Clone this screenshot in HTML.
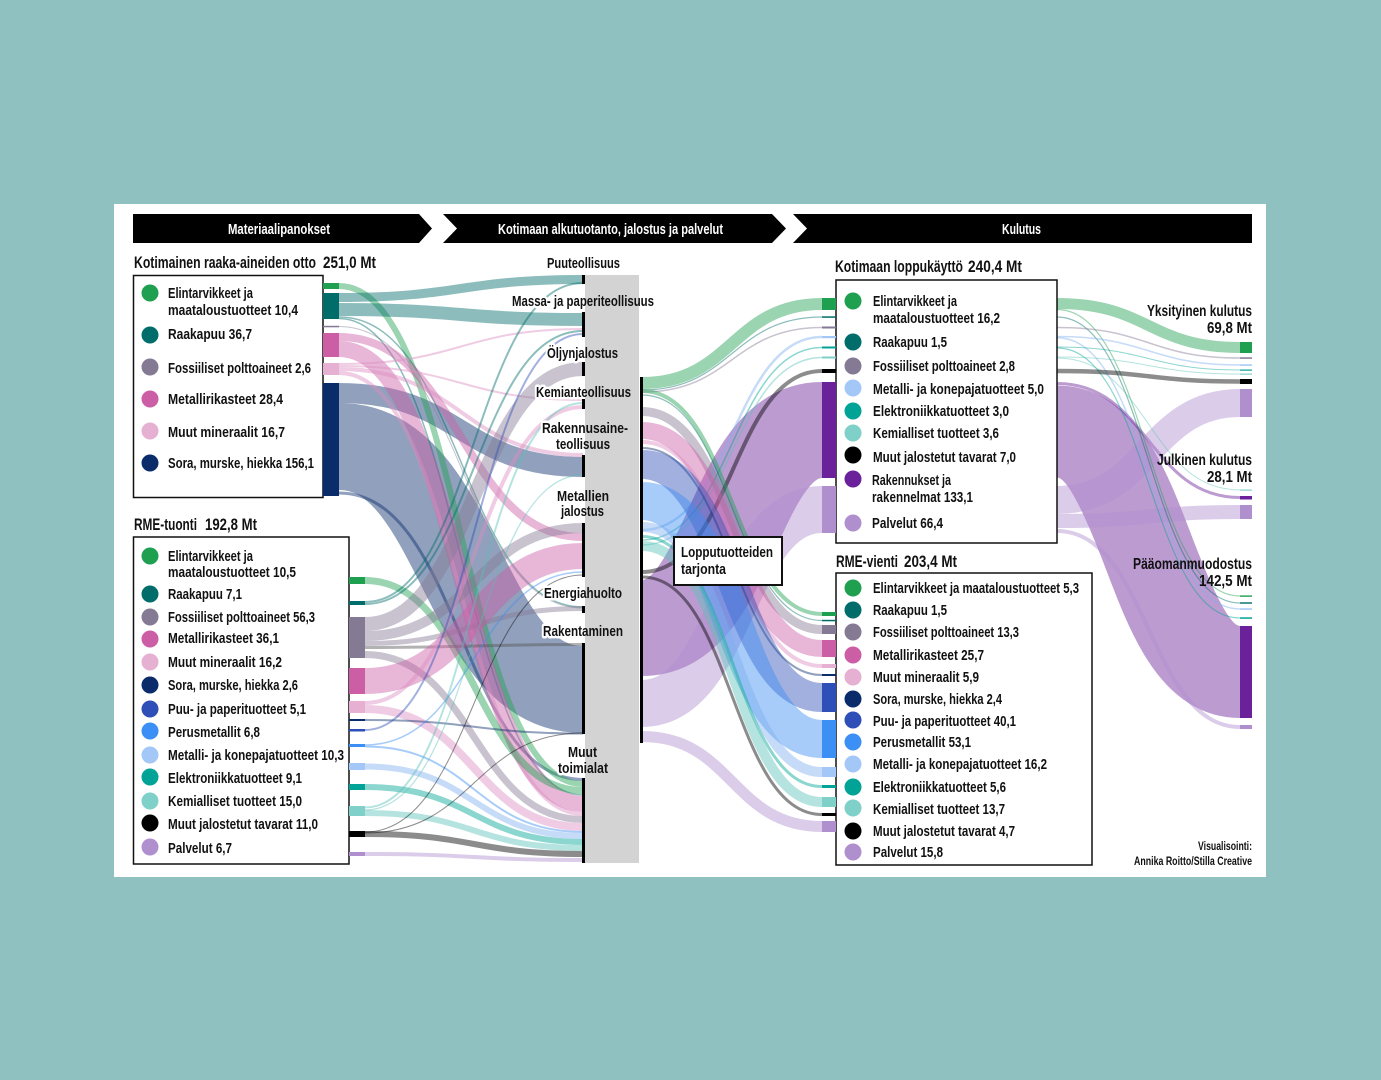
<!DOCTYPE html>
<html><head><meta charset="utf-8"><style>
html,body{margin:0;padding:0;background:#8fc1c1;}
svg{display:block;}
text{font-family:"Liberation Sans",sans-serif;font-weight:bold;fill:#111;}
</style></head><body>
<svg width="1381" height="1080" viewBox="0 0 1381 1080" xmlns="http://www.w3.org/2000/svg">
<rect width="1381" height="1080" fill="#8fc1c1"/>
<rect x="114" y="204" width="1152" height="673" fill="#fff"/>

<!-- header bars -->
<path d="M133 214 L419 214 L432 228.5 L419 243 L133 243 Z" fill="#000"/>
<path d="M443 214 L772 214 L786 228.5 L772 243 L443 243 L457 228.5 Z" fill="#000"/>
<path d="M793 214 L1252 214 L1252 243 L793 243 L807 228.5 Z" fill="#000"/>
<g font-size="15">
<text x="279" y="234" text-anchor="middle" textLength="102" lengthAdjust="spacingAndGlyphs" style="fill:#fff">Materiaalipanokset</text>
<text x="610.5" y="234" text-anchor="middle" textLength="225" lengthAdjust="spacingAndGlyphs" style="fill:#fff">Kotimaan alkutuotanto, jalostus ja palvelut</text>
<text x="1021.5" y="234" text-anchor="middle" textLength="39" lengthAdjust="spacingAndGlyphs" style="fill:#fff">Kulutus</text>
</g>

<!-- FLOWS -->
<g fill="none" stroke-opacity="0.45">
<path d="M339 446.5 C461 446.5 461 689.5 583 689.5" stroke="#0a2c6a" stroke-width="87"/>
<path d="M339 393 C461 393 461 467 583 467" stroke="#0a2c6a" stroke-width="20"/>
<path d="M339 493 C461 493 461 779.5 583 779.5" stroke="#0a2c6a" stroke-width="3"/>
<path d="M339 286 C461 286 461 784 583 784" stroke="#1fa050" stroke-width="6"/>
<path d="M339 297.5 C461 297.5 461 279.5 583 279.5" stroke="#006d6a" stroke-width="9"/>
<path d="M339 309.5 C461 309.5 461 319.5 583 319.5" stroke="#006d6a" stroke-width="13"/>
<path d="M339 317 C461 317 461 607 583 607" stroke="#006d6a" stroke-width="1.5"/>
<path d="M339 318.5 C461 318.5 461 795 583 795" stroke="#006d6a" stroke-width="1.5"/>
<path d="M339 326.5 C461 326.5 461 608 583 608" stroke="#857a94" stroke-width="1"/>
<path d="M339 337 C461 337 461 537 583 537" stroke="#cc5ea6" stroke-width="8"/>
<path d="M339 349 C461 349 461 804 583 804" stroke="#cc5ea6" stroke-width="16"/>
<path d="M339 364 C461 364 461 329 583 329" stroke="#dc8fc0" stroke-width="2"/>
<path d="M339 366 C461 366 461 400 583 400" stroke="#dc8fc0" stroke-width="2"/>
<path d="M339 369 C461 369 461 455 583 455" stroke="#dc8fc0" stroke-width="4"/>
<path d="M339 373 C461 373 461 814 583 814" stroke="#dc8fc0" stroke-width="4"/>
<path d="M365 580.5 C474 580.5 474 790.5 583 790.5" stroke="#1fa050" stroke-width="7"/>
<path d="M365 602 C474 602 474 283 583 283" stroke="#006d6a" stroke-width="2"/>
<path d="M365 604 C474 604 474 331 583 331" stroke="#006d6a" stroke-width="2"/>
<path d="M365 624 C474 624 474 369 583 369" stroke="#857a94" stroke-width="14"/>
<path d="M365 636 C474 636 474 528 583 528" stroke="#857a94" stroke-width="10"/>
<path d="M365 643.5 C474 643.5 474 608.5 583 608.5" stroke="#857a94" stroke-width="5"/>
<path d="M365 647.5 C474 647.5 474 644.5 583 644.5" stroke="#555" stroke-width="3"/>
<path d="M365 654.5 C474 654.5 474 819.5 583 819.5" stroke="#857a94" stroke-width="7"/>
<path d="M365 681 C474 681 474 556 583 556" stroke="#cc5ea6" stroke-width="26"/>
<path d="M365 703 C474 703 474 407 583 407" stroke="#dc8fc0" stroke-width="4"/>
<path d="M365 709 C474 709 474 827 583 827" stroke="#dc8fc0" stroke-width="8"/>
<path d="M365 720 C474 720 474 733.5 583 733.5" stroke="#0a2c6a" stroke-width="2"/>
<path d="M365 730 C474 730 474 334 583 334" stroke="#2f4fb8" stroke-width="2"/>
<path d="M365 745 C474 745 474 572 583 572" stroke="#3b8ff5" stroke-width="1.5"/>
<path d="M365 746.5 C474 746.5 474 832 583 832" stroke="#3b8ff5" stroke-width="2"/>
<path d="M365 766.5 C474 766.5 474 836 583 836" stroke="#7fb0f0" stroke-width="6"/>
<path d="M365 787 C474 787 474 842 583 842" stroke="#00a396" stroke-width="6"/>
<path d="M365 807.5 C474 807.5 474 403 583 403" stroke="#5cc2b8" stroke-width="2"/>
<path d="M365 810 C474 810 474 475 583 475" stroke="#5cc2b8" stroke-width="1.2"/>
<path d="M365 813 C474 813 474 848 583 848" stroke="#5cc2b8" stroke-width="6"/>
<path d="M365 834 C474 834 474 854 583 854" stroke="#000" stroke-width="6"/>
<path d="M365 832 C474 832 474 575 583 575" stroke="#000" stroke-width="1"/>
<path d="M365 833 C474 833 474 733 583 733" stroke="#000" stroke-width="1"/>
<path d="M365 854 C474 854 474 860 583 860" stroke="#b08fcf" stroke-width="4"/>

<path d="M642 628 C732 628 732 430 822 430" stroke="#6a2199" stroke-width="96"/>
<path d="M642 703.5 C732 703.5 732 509.5 822 509.5" stroke="#b08fcf" stroke-width="47"/>
<path d="M642 736.5 C732 736.5 732 826.5 822 826.5" stroke="#b08fcf" stroke-width="11"/>
<path d="M642 383 C732 383 732 304 822 304" stroke="#1fa050" stroke-width="12"/>
<path d="M642 390 C732 390 732 317 822 317" stroke="#006d6a" stroke-width="1.2"/>
<path d="M642 392 C732 392 732 327.5 822 327.5" stroke="#857a94" stroke-width="1.5"/>
<path d="M642 530 C732 530 732 337 822 337" stroke="#7fb0f0" stroke-width="2.5"/>
<path d="M642 540 C732 540 732 347.5 822 347.5" stroke="#00a396" stroke-width="1.5"/>
<path d="M642 545 C732 545 732 357.5 822 357.5" stroke="#5cc2b8" stroke-width="1.5"/>
<path d="M642 572 C732 572 732 371 822 371" stroke="#000" stroke-width="4"/>
<path d="M642 391 C732 391 732 614 822 614" stroke="#1fa050" stroke-width="4"/>
<path d="M642 395 C732 395 732 620.5 822 620.5" stroke="#006d6a" stroke-width="1.2"/>
<path d="M642 411.5 C732 411.5 732 629.5 822 629.5" stroke="#857a94" stroke-width="9"/>
<path d="M642 430.5 C732 430.5 732 648.5 822 648.5" stroke="#cc5ea6" stroke-width="17"/>
<path d="M642 442 C732 442 732 666 822 666" stroke="#dc8fc0" stroke-width="4"/>
<path d="M642 448 C732 448 732 675 822 675" stroke="#0a2c6a" stroke-width="2"/>
<path d="M642 464.5 C732 464.5 732 697.5 822 697.5" stroke="#2f4fb8" stroke-width="29"/>
<path d="M642 501 C732 501 732 739 822 739" stroke="#3b8ff5" stroke-width="38"/>
<path d="M642 527 C732 527 732 772 822 772" stroke="#7fb0f0" stroke-width="10"/>
<path d="M642 536.5 C732 536.5 732 786.5 822 786.5" stroke="#00a396" stroke-width="3"/>
<path d="M642 546 C732 546 732 802 822 802" stroke="#5cc2b8" stroke-width="10"/>
<path d="M642 577 C732 577 732 814.5 822 814.5" stroke="#000" stroke-width="3"/>

<path d="M1057 431.5 C1148.5 431.5 1148.5 672 1240 672" stroke="#6a2199" stroke-width="92"/>
<path d="M1057 383.5 C1148.5 383.5 1148.5 497.5 1240 497.5" stroke="#6a2199" stroke-width="3"/>
<path d="M1057 500 C1148.5 500 1148.5 403 1240 403" stroke="#b08fcf" stroke-width="28"/>
<path d="M1057 521 C1148.5 521 1148.5 512 1240 512" stroke="#b08fcf" stroke-width="14"/>
<path d="M1057 531 C1148.5 531 1148.5 727 1240 727" stroke="#b08fcf" stroke-width="4"/>
<path d="M1057 303.5 C1148.5 303.5 1148.5 347.5 1240 347.5" stroke="#1fa050" stroke-width="11"/>
<path d="M1057 309.5 C1148.5 309.5 1148.5 596 1240 596" stroke="#1fa050" stroke-width="1.2"/>
<path d="M1057 317 C1148.5 317 1148.5 603 1240 603" stroke="#006d6a" stroke-width="1.2"/>
<path d="M1057 327.5 C1148.5 327.5 1148.5 358 1240 358" stroke="#857a94" stroke-width="1.5"/>
<path d="M1057 336.5 C1148.5 336.5 1148.5 365 1240 365" stroke="#7fb0f0" stroke-width="1.5"/>
<path d="M1057 337.8 C1148.5 337.8 1148.5 609 1240 609" stroke="#7fb0f0" stroke-width="1.5"/>
<path d="M1057 347 C1148.5 347 1148.5 370 1240 370" stroke="#00a396" stroke-width="1"/>
<path d="M1057 348 C1148.5 348 1148.5 618 1240 618" stroke="#00a396" stroke-width="1.2"/>
<path d="M1057 357 C1148.5 357 1148.5 374 1240 374" stroke="#5cc2b8" stroke-width="1"/>
<path d="M1057 358 C1148.5 358 1148.5 490 1240 490" stroke="#5cc2b8" stroke-width="1"/>
<path d="M1057 371 C1148.5 371 1148.5 381.5 1240 381.5" stroke="#000" stroke-width="4.5"/>
</g>

<!-- label halos -->
<g font-size="15" text-anchor="middle" stroke="#fff" stroke-width="5" stroke-linejoin="round">
<text x="583.5" y="268" textLength="73" lengthAdjust="spacingAndGlyphs" style="fill:#fff">Puuteollisuus</text>
<text x="583" y="306" textLength="142" lengthAdjust="spacingAndGlyphs" style="fill:#fff">Massa- ja paperiteollisuus</text>
<text x="582.5" y="358" textLength="71" lengthAdjust="spacingAndGlyphs" style="fill:#fff">Öljynjalostus</text>
<text x="583.5" y="397" textLength="95" lengthAdjust="spacingAndGlyphs" style="fill:#fff">Kemianteollisuus</text>
<text x="585" y="433" textLength="86" lengthAdjust="spacingAndGlyphs" style="fill:#fff">Rakennusaine-</text>
<text x="583" y="449" textLength="54" lengthAdjust="spacingAndGlyphs" style="fill:#fff">teollisuus</text>
<text x="583" y="501" textLength="52" lengthAdjust="spacingAndGlyphs" style="fill:#fff">Metallien</text>
<text x="582.5" y="516" textLength="43" lengthAdjust="spacingAndGlyphs" style="fill:#fff">jalostus</text>
<text x="583" y="598" textLength="78" lengthAdjust="spacingAndGlyphs" style="fill:#fff">Energiahuolto</text>
<text x="583" y="636" textLength="80" lengthAdjust="spacingAndGlyphs" style="fill:#fff">Rakentaminen</text>
<text x="582.5" y="757" textLength="29" lengthAdjust="spacingAndGlyphs" style="fill:#fff">Muut</text>
<text x="583" y="773" textLength="50" lengthAdjust="spacingAndGlyphs" style="fill:#fff">toimialat</text>
</g>

<!-- middle column -->
<rect x="585" y="275" width="54" height="588" fill="#d3d3d3"/>
<g fill="#000">
<rect x="582" y="275" width="3" height="9"/>
<rect x="582" y="312" width="3" height="25"/>
<rect x="582" y="362" width="3" height="14"/>
<rect x="582" y="399" width="3" height="10"/>
<rect x="582" y="455" width="3" height="22"/>
<rect x="582" y="523" width="3" height="54"/>
<rect x="582" y="606" width="3" height="7"/>
<rect x="582" y="643" width="3" height="91"/>
<rect x="582" y="778" width="3" height="85"/>
<rect x="640" y="377" width="3" height="366"/>
</g>

<g font-size="15" text-anchor="middle">
<text x="583.5" y="268" textLength="73" lengthAdjust="spacingAndGlyphs">Puuteollisuus</text>
<text x="583" y="306" textLength="142" lengthAdjust="spacingAndGlyphs">Massa- ja paperiteollisuus</text>
<text x="582.5" y="358" textLength="71" lengthAdjust="spacingAndGlyphs">Öljynjalostus</text>
<text x="583.5" y="397" textLength="95" lengthAdjust="spacingAndGlyphs">Kemianteollisuus</text>
<text x="585" y="433" textLength="86" lengthAdjust="spacingAndGlyphs">Rakennusaine-</text>
<text x="583" y="449" textLength="54" lengthAdjust="spacingAndGlyphs">teollisuus</text>
<text x="583" y="501" textLength="52" lengthAdjust="spacingAndGlyphs">Metallien</text>
<text x="582.5" y="516" textLength="43" lengthAdjust="spacingAndGlyphs">jalostus</text>
<text x="583" y="598" textLength="78" lengthAdjust="spacingAndGlyphs">Energiahuolto</text>
<text x="583" y="636" textLength="80" lengthAdjust="spacingAndGlyphs">Rakentaminen</text>
<text x="582.5" y="757" textLength="29" lengthAdjust="spacingAndGlyphs">Muut</text>
<text x="583" y="773" textLength="50" lengthAdjust="spacingAndGlyphs">toimialat</text>
</g>

<rect x="674" y="537" width="108" height="48" fill="#fff" stroke="#111" stroke-width="2"/>
<g font-size="15">
<text x="681" y="557" textLength="92" lengthAdjust="spacingAndGlyphs">Lopputuotteiden</text>
<text x="681" y="574" textLength="45" lengthAdjust="spacingAndGlyphs">tarjonta</text>
</g>

<g font-size="16.5">
<text x="134" y="268" textLength="182" lengthAdjust="spacingAndGlyphs">Kotimainen raaka-aineiden otto</text>
<text x="323" y="268" textLength="53" lengthAdjust="spacingAndGlyphs">251,0 Mt</text>
<text x="134" y="530" textLength="63" lengthAdjust="spacingAndGlyphs">RME-tuonti</text>
<text x="205" y="530" textLength="52" lengthAdjust="spacingAndGlyphs">192,8 Mt</text>
<text x="835" y="272" textLength="128" lengthAdjust="spacingAndGlyphs">Kotimaan loppukäyttö</text>
<text x="968" y="272" textLength="54" lengthAdjust="spacingAndGlyphs">240,4 Mt</text>
<text x="836" y="567" textLength="62" lengthAdjust="spacingAndGlyphs">RME-vienti</text>
<text x="904" y="567" textLength="53" lengthAdjust="spacingAndGlyphs">203,4 Mt</text>
</g>

<g fill="#fff" stroke="#111" stroke-width="1.5">
<rect x="133.5" y="275.5" width="189.5" height="222"/>
<rect x="133.5" y="537" width="215.5" height="327"/>
<rect x="836" y="280" width="221" height="263"/>
<rect x="836" y="573" width="256" height="292"/>
</g>

<g>
<circle cx="150" cy="293" r="8.5" fill="#1fa050"/>
<circle cx="150" cy="335" r="8.5" fill="#006d6a"/>
<circle cx="150" cy="367" r="8.5" fill="#857a94"/>
<circle cx="150" cy="399" r="8.5" fill="#cc5ea6"/>
<circle cx="150" cy="431" r="8.5" fill="#e6b0d2"/>
<circle cx="150" cy="463" r="8.5" fill="#0a2c6a"/>
</g>
<g font-size="15">
<text x="168" y="298" textLength="85" lengthAdjust="spacingAndGlyphs">Elintarvikkeet ja</text>
<text x="168" y="315" textLength="130" lengthAdjust="spacingAndGlyphs">maataloustuotteet  10,4</text>
<text x="168" y="339" textLength="84" lengthAdjust="spacingAndGlyphs">Raakapuu  36,7</text>
<text x="168" y="373" textLength="143" lengthAdjust="spacingAndGlyphs">Fossiiliset polttoaineet  2,6</text>
<text x="168" y="404" textLength="115" lengthAdjust="spacingAndGlyphs">Metallirikasteet  28,4</text>
<text x="168" y="437" textLength="117" lengthAdjust="spacingAndGlyphs">Muut mineraalit  16,7</text>
<text x="168" y="468" textLength="146" lengthAdjust="spacingAndGlyphs">Sora, murske, hiekka  156,1</text>
</g>

<g>
<circle cx="150" cy="556" r="8.5" fill="#1fa050"/>
<circle cx="150" cy="594" r="8.5" fill="#006d6a"/>
<circle cx="150" cy="617" r="8.5" fill="#857a94"/>
<circle cx="150" cy="639" r="8.5" fill="#cc5ea6"/>
<circle cx="150" cy="662" r="8.5" fill="#e6b0d2"/>
<circle cx="150" cy="685" r="8.5" fill="#0a2c6a"/>
<circle cx="150" cy="709" r="8.5" fill="#2f4fb8"/>
<circle cx="150" cy="731" r="8.5" fill="#3b8ff5"/>
<circle cx="150" cy="755" r="8.5" fill="#a3c8f8"/>
<circle cx="150" cy="777" r="8.5" fill="#00a396"/>
<circle cx="150" cy="801" r="8.5" fill="#7fd0c8"/>
<circle cx="150" cy="823" r="8.5" fill="#000"/>
<circle cx="150" cy="847" r="8.5" fill="#b08fcf"/>
</g>
<g font-size="15">
<text x="168" y="561" textLength="85" lengthAdjust="spacingAndGlyphs">Elintarvikkeet ja</text>
<text x="168" y="577" textLength="128" lengthAdjust="spacingAndGlyphs">maataloustuotteet 10,5</text>
<text x="168" y="599" textLength="74" lengthAdjust="spacingAndGlyphs">Raakapuu 7,1</text>
<text x="168" y="622" textLength="147" lengthAdjust="spacingAndGlyphs">Fossiiliset polttoaineet 56,3</text>
<text x="168" y="643" textLength="111" lengthAdjust="spacingAndGlyphs">Metallirikasteet 36,1</text>
<text x="168" y="667" textLength="114" lengthAdjust="spacingAndGlyphs">Muut mineraalit 16,2</text>
<text x="168" y="690" textLength="130" lengthAdjust="spacingAndGlyphs">Sora, murske, hiekka 2,6</text>
<text x="168" y="714" textLength="138" lengthAdjust="spacingAndGlyphs">Puu- ja paperituotteet 5,1</text>
<text x="168" y="737" textLength="92" lengthAdjust="spacingAndGlyphs">Perusmetallit 6,8</text>
<text x="168" y="760" textLength="176" lengthAdjust="spacingAndGlyphs">Metalli- ja konepajatuotteet 10,3</text>
<text x="168" y="783" textLength="134" lengthAdjust="spacingAndGlyphs">Elektroniikkatuotteet 9,1</text>
<text x="168" y="806" textLength="134" lengthAdjust="spacingAndGlyphs">Kemialliset tuotteet 15,0</text>
<text x="168" y="829" textLength="150" lengthAdjust="spacingAndGlyphs">Muut jalostetut tavarat 11,0</text>
<text x="168" y="853" textLength="64" lengthAdjust="spacingAndGlyphs">Palvelut 6,7</text>
</g>

<g>
<circle cx="853" cy="301" r="8.5" fill="#1fa050"/>
<circle cx="853" cy="342" r="8.5" fill="#006d6a"/>
<circle cx="853" cy="366" r="8.5" fill="#857a94"/>
<circle cx="853" cy="388" r="8.5" fill="#a3c8f8"/>
<circle cx="853" cy="411" r="8.5" fill="#00a396"/>
<circle cx="853" cy="433" r="8.5" fill="#7fd0c8"/>
<circle cx="853" cy="455" r="8.5" fill="#000"/>
<circle cx="853" cy="479" r="8.5" fill="#6a2199"/>
<circle cx="853" cy="523" r="8.5" fill="#b08fcf"/>
</g>
<g font-size="15">
<text x="873" y="306" textLength="84" lengthAdjust="spacingAndGlyphs">Elintarvikkeet ja</text>
<text x="873" y="323" textLength="127" lengthAdjust="spacingAndGlyphs">maataloustuotteet 16,2</text>
<text x="873" y="347" textLength="74" lengthAdjust="spacingAndGlyphs">Raakapuu 1,5</text>
<text x="873" y="371" textLength="142" lengthAdjust="spacingAndGlyphs">Fossiiliset polttoaineet  2,8</text>
<text x="873" y="394" textLength="171" lengthAdjust="spacingAndGlyphs">Metalli- ja konepajatuotteet  5,0</text>
<text x="873" y="416" textLength="136" lengthAdjust="spacingAndGlyphs">Elektroniikkatuotteet  3,0</text>
<text x="873" y="438" textLength="126" lengthAdjust="spacingAndGlyphs">Kemialliset tuotteet 3,6</text>
<text x="873" y="462" textLength="143" lengthAdjust="spacingAndGlyphs">Muut jalostetut tavarat 7,0</text>
<text x="872" y="485" textLength="79" lengthAdjust="spacingAndGlyphs">Rakennukset ja</text>
<text x="872" y="502" textLength="101" lengthAdjust="spacingAndGlyphs">rakennelmat 133,1</text>
<text x="872" y="528" textLength="71" lengthAdjust="spacingAndGlyphs">Palvelut 66,4</text>
</g>

<g>
<circle cx="853" cy="588" r="8.5" fill="#1fa050"/>
<circle cx="853" cy="610" r="8.5" fill="#006d6a"/>
<circle cx="853" cy="632" r="8.5" fill="#857a94"/>
<circle cx="853" cy="655" r="8.5" fill="#cc5ea6"/>
<circle cx="853" cy="677" r="8.5" fill="#e6b0d2"/>
<circle cx="853" cy="699" r="8.5" fill="#0a2c6a"/>
<circle cx="853" cy="720" r="8.5" fill="#2f4fb8"/>
<circle cx="853" cy="742" r="8.5" fill="#3b8ff5"/>
<circle cx="853" cy="764" r="8.5" fill="#a3c8f8"/>
<circle cx="853" cy="787" r="8.5" fill="#00a396"/>
<circle cx="853" cy="808" r="8.5" fill="#7fd0c8"/>
<circle cx="853" cy="831" r="8.5" fill="#000"/>
<circle cx="853" cy="852" r="8.5" fill="#b08fcf"/>
</g>
<g font-size="15">
<text x="873" y="593" textLength="206" lengthAdjust="spacingAndGlyphs">Elintarvikkeet ja maataloustuotteet 5,3</text>
<text x="873" y="615" textLength="74" lengthAdjust="spacingAndGlyphs">Raakapuu 1,5</text>
<text x="873" y="637" textLength="146" lengthAdjust="spacingAndGlyphs">Fossiiliset polttoaineet 13,3</text>
<text x="873" y="660" textLength="111" lengthAdjust="spacingAndGlyphs">Metallirikasteet 25,7</text>
<text x="873" y="682" textLength="106" lengthAdjust="spacingAndGlyphs">Muut mineraalit 5,9</text>
<text x="873" y="704" textLength="129" lengthAdjust="spacingAndGlyphs">Sora, murske, hiekka 2,4</text>
<text x="873" y="726" textLength="143" lengthAdjust="spacingAndGlyphs">Puu- ja paperituotteet 40,1</text>
<text x="873" y="747" textLength="98" lengthAdjust="spacingAndGlyphs">Perusmetallit 53,1</text>
<text x="873" y="769" textLength="174" lengthAdjust="spacingAndGlyphs">Metalli- ja konepajatuotteet 16,2</text>
<text x="873" y="792" textLength="133" lengthAdjust="spacingAndGlyphs">Elektroniikkatuotteet 5,6</text>
<text x="873" y="814" textLength="132" lengthAdjust="spacingAndGlyphs">Kemialliset tuotteet 13,7</text>
<text x="873" y="836" textLength="142" lengthAdjust="spacingAndGlyphs">Muut jalostetut tavarat 4,7</text>
<text x="873" y="857" textLength="70" lengthAdjust="spacingAndGlyphs">Palvelut 15,8</text>
</g>

<g>
<rect x="323" y="283" width="16" height="6" fill="#1fa050"/>
<rect x="323" y="293" width="16" height="26" fill="#006d6a"/>
<rect x="323" y="325.8" width="16" height="1.5" fill="#857a94"/>
<rect x="323" y="333" width="16" height="24" fill="#cc5ea6"/>
<rect x="323" y="363" width="16" height="12" fill="#e6b0d2"/>
<rect x="323" y="383" width="16" height="113" fill="#0a2c6a"/>
</g>
<g>
<rect x="349" y="577" width="16" height="7" fill="#1fa050"/>
<rect x="349" y="601" width="16" height="4" fill="#006d6a"/>
<rect x="349" y="617" width="16" height="41" fill="#857a94"/>
<rect x="349" y="668" width="16" height="26" fill="#cc5ea6"/>
<rect x="349" y="701" width="16" height="12" fill="#e6b0d2"/>
<rect x="349" y="719" width="16" height="2" fill="#0a2c6a"/>
<rect x="349" y="729" width="16" height="2.5" fill="#2f4fb8"/>
<rect x="349" y="744" width="16" height="3" fill="#3b8ff5"/>
<rect x="349" y="763" width="16" height="7" fill="#a3c8f8"/>
<rect x="349" y="784" width="16" height="6" fill="#00a396"/>
<rect x="349" y="806" width="16" height="10" fill="#7fd0c8"/>
<rect x="349" y="831" width="16" height="6" fill="#000"/>
<rect x="349" y="852" width="16" height="4" fill="#b08fcf"/>
</g>
<g>
<rect x="822" y="298" width="14" height="12" fill="#1fa050"/>
<rect x="822" y="316.3" width="14" height="1.5" fill="#006d6a"/>
<rect x="822" y="326.5" width="14" height="2" fill="#857a94"/>
<rect x="822" y="336" width="14" height="2.2" fill="#a3c8f8"/>
<rect x="822" y="346.5" width="14" height="2" fill="#00a396"/>
<rect x="822" y="356.5" width="14" height="2" fill="#7fd0c8"/>
<rect x="822" y="369" width="14" height="4" fill="#000"/>
<rect x="822" y="382" width="14" height="96" fill="#6a2199"/>
<rect x="822" y="486" width="14" height="47" fill="#b08fcf"/>
</g>
<g>
<rect x="822" y="612" width="14" height="4" fill="#1fa050"/>
<rect x="822" y="619.8" width="14" height="1.5" fill="#006d6a"/>
<rect x="822" y="625" width="14" height="9" fill="#857a94"/>
<rect x="822" y="640" width="14" height="17" fill="#cc5ea6"/>
<rect x="822" y="664" width="14" height="4" fill="#e6b0d2"/>
<rect x="822" y="674" width="14" height="2" fill="#0a2c6a"/>
<rect x="822" y="683" width="14" height="29" fill="#2f4fb8"/>
<rect x="822" y="720" width="14" height="38" fill="#3b8ff5"/>
<rect x="822" y="767" width="14" height="10" fill="#a3c8f8"/>
<rect x="822" y="785" width="14" height="3" fill="#00a396"/>
<rect x="822" y="797" width="14" height="10" fill="#7fd0c8"/>
<rect x="822" y="813" width="14" height="3" fill="#000"/>
<rect x="822" y="821" width="14" height="11" fill="#b08fcf"/>
</g>
<g>
<rect x="1240" y="342" width="12" height="11" fill="#1fa050"/>
<rect x="1240" y="357.3" width="12" height="1.5" fill="#857a94"/>
<rect x="1240" y="364.3" width="12" height="1.5" fill="#a3c8f8"/>
<rect x="1240" y="369.5" width="12" height="1.2" fill="#00a396"/>
<rect x="1240" y="373.5" width="12" height="1.2" fill="#7fd0c8"/>
<rect x="1240" y="379" width="12" height="5" fill="#000"/>
<rect x="1240" y="389" width="12" height="28" fill="#b08fcf"/>
<rect x="1240" y="489.5" width="12" height="1.2" fill="#7fd0c8"/>
<rect x="1240" y="496" width="12" height="3.5" fill="#6a2199"/>
<rect x="1240" y="505" width="12" height="14" fill="#b08fcf"/>
<rect x="1240" y="595.4" width="12" height="1.4" fill="#1fa050"/>
<rect x="1240" y="602.3" width="12" height="1.4" fill="#006d6a"/>
<rect x="1240" y="608.3" width="12" height="1.5" fill="#a3c8f8"/>
<rect x="1240" y="617.3" width="12" height="1.5" fill="#00a396"/>
<rect x="1240" y="626" width="12" height="92" fill="#6a2199"/>
<rect x="1240" y="725" width="12" height="4" fill="#b08fcf"/>
</g>

<g font-size="16" text-anchor="end">
<text x="1252" y="316" textLength="105" lengthAdjust="spacingAndGlyphs">Yksityinen kulutus</text>
<text x="1252" y="333" textLength="45" lengthAdjust="spacingAndGlyphs">69,8 Mt</text>
<text x="1252" y="465" textLength="95" lengthAdjust="spacingAndGlyphs">Julkinen kulutus</text>
<text x="1252" y="482" textLength="45" lengthAdjust="spacingAndGlyphs">28,1 Mt</text>
<text x="1252" y="569" textLength="119" lengthAdjust="spacingAndGlyphs">Pääomanmuodostus</text>
<text x="1252" y="586" textLength="53" lengthAdjust="spacingAndGlyphs">142,5 Mt</text>
</g>
<g font-size="11.5" text-anchor="end">
<text x="1252" y="850" textLength="54" lengthAdjust="spacingAndGlyphs">Visualisointi:</text>
<text x="1252" y="865" textLength="118" lengthAdjust="spacingAndGlyphs">Annika Roitto/Stilla Creative</text>
</g>
</svg>
</body></html>
